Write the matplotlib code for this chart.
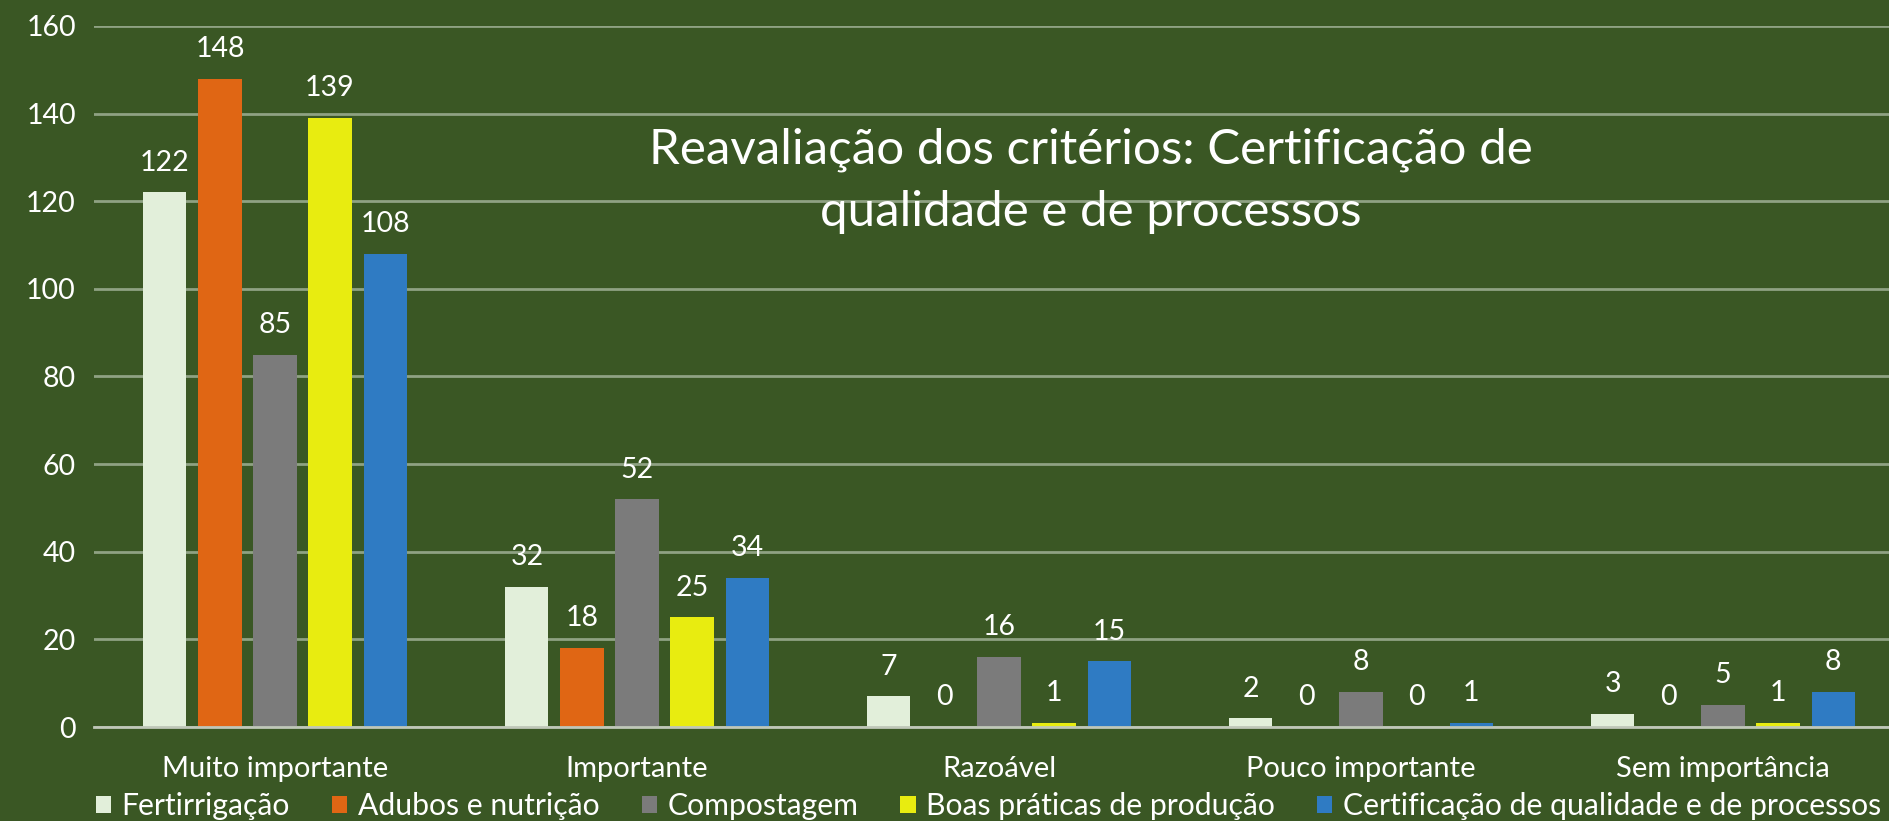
import numpy as np
import matplotlib.pyplot as plt

categories = ["Muito importante", "Importante", "Razoável", "Pouco importante", "Sem importância"]
series_names = [
    "Fertirrigação",
    "Adubos e nutrição",
    "Compostagem",
    "Boas práticas de produção",
    "Certificação de qualidade e de processos",
]
fertirrigacao = [122, 32, 7, 2, 3]
adubos = [148, 18, 0, 0, 0]
compostagem = [85, 52, 16, 8, 5]
boas_praticas = [139, 25, 1, 0, 1]
certificacao = [108, 34, 15, 1, 8]
yticks = [0, 20, 40, 60, 80, 100, 120, 140, 160]

colors = ["#E2EFDA", "#E06614", "#7B7B7B", "#E8EC10", "#2F7BC3"]
BG = "#3A5724"
FONT = ["Lato", "DejaVu Sans"]

plt.rcParams["font.family"] = FONT

fig = plt.figure(figsize=(18.9, 8.21), dpi=100, facecolor=BG)
ax = fig.add_axes([94 / 1890, 1 - 727 / 821, 1810 / 1890, (727 - 26) / 821])
ax.set_facecolor(BG)

x = np.arange(len(categories))
width = 0.119
step = 0.152
all_series = [fertirrigacao, adubos, compostagem, boas_praticas, certificacao]
for i, (vals, name, c) in enumerate(zip(all_series, series_names, colors)):
    bars = ax.bar(x + (i - 2) * step, vals, width, color=c, label=name, zorder=3)
    ax.bar_label(bars, labels=[str(v) for v in vals], padding=12,
                 color="white", fontsize=20.5)

ax.set_xlim(-0.5, len(categories) - 0.5)
ax.set_ylim(0, 160)
ax.set_yticks(yticks)
ax.set_xticks(x)
ax.set_xticklabels(categories)
ax.tick_params(axis="y", length=0, pad=13, labelsize=20.5, labelcolor="white")
ax.tick_params(axis="x", length=0, pad=21, labelsize=21, labelcolor="white")
ax.grid(axis="y", color="#8FA283", linewidth=2, zorder=0)
for s in ["top", "right", "left"]:
    ax.spines[s].set_visible(False)
ax.spines["bottom"].set_color("#BFC7B8")
ax.spines["bottom"].set_linewidth(2)
ax.spines["bottom"].set_zorder(4)

fig.text(0.577, 0.78, "Reavaliação dos critérios: Certificação de\nqualidade e de processos",
         ha="center", va="center", color="white", fontsize=35.5, linespacing=1.5)

fig.legend(loc="center", bbox_to_anchor=(0.523, 1 - 806 / 821), ncol=5,
           frameon=False, fontsize=21.7, labelcolor="white",
           handlelength=0.5, handleheight=0.5, handletextpad=0.35,
           columnspacing=1.4, borderpad=0, borderaxespad=0)

fig.savefig("out.png", dpi=100, facecolor=BG)
